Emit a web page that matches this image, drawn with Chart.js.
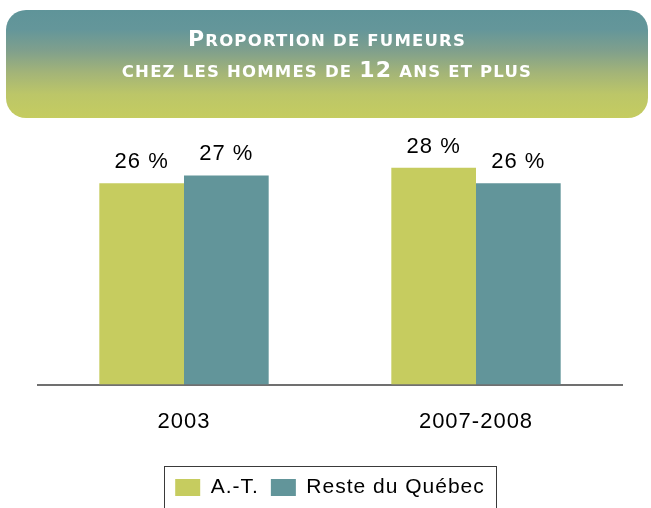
<!DOCTYPE html>
<html>
<head>
<meta charset="utf-8">
<script src="https://cdn.jsdelivr.net/npm/chart.js@4.4.1/dist/chart.umd.min.js"></script>
<style>
  html, body { margin: 0; padding: 0; background: #ffffff; }
  #wrap { position: relative; width: 651px; height: 508px; overflow: hidden; }
  #banner {
    position: absolute; left: 6px; top: 10px; width: 642px; height: 108px;
    border-radius: 20px;
    background: linear-gradient(to bottom, #5f9499 0%, #64969a 18%, #80a08c 38%, #a3b478 58%, #bcc668 78%, #c5cc60 100%);
    color: #ffffff; text-align: center;
    font-family: "DejaVu Sans", sans-serif; font-weight: bold;
  }
  #banner .ln { position: absolute; left: 0; right: 0; font-size: 22px; line-height: 26px; letter-spacing: 1.2px; white-space: nowrap; }
  #banner .l1 { top: 16px; }
  #banner .l2 { top: 47px; }
  #banner .sc { font-size: 16.5px; text-transform: uppercase; }
  #c { position: absolute; left: 0; top: 0; }
</style>
</head>
<body>
<div id="wrap">
  <canvas id="c" width="651" height="508"></canvas>
  <div id="banner">
    <div class="ln l1">P<span class="sc">roportion de fumeurs</span></div>
    <div class="ln l2"><span class="sc">chez les hommes de </span>12<span class="sc"> ans et plus</span></div>
  </div>
</div>
<script>
const categories = ["2003", "2007-2008"];
const seriesNames = ["A.-T.", "Reste du Québec"];
const valuesAT = [26, 28];
const valuesReste = [27, 26];
const colors = ["#c6cc5f", "#62959a"];

const SPACING = '1px';
const FONT_FAMILY = '"Liberation Sans", Arial, sans-serif';

const spacingPlugin = {
  id: 'spacing',
  beforeUpdate(chart) { chart.ctx.letterSpacing = SPACING; },
  beforeLayout(chart) { chart.ctx.letterSpacing = SPACING; },
  beforeDraw(chart) { chart.ctx.letterSpacing = SPACING; }
};

const labelPlugin = {
  id: 'valueLabels',
  afterDatasetsDraw(chart) {
    const ctx = chart.ctx;
    ctx.save();
    ctx.letterSpacing = SPACING;
    ctx.font = '22px ' + FONT_FAMILY;
    ctx.fillStyle = '#000000';
    ctx.textAlign = 'center';
    ctx.textBaseline = 'alphabetic';
    chart.data.datasets.forEach((ds, i) => {
      const meta = chart.getDatasetMeta(i);
      meta.data.forEach((bar, j) => {
        ctx.fillText(ds.data[j] + ' %', bar.x, bar.y - 15);
      });
    });
    ctx.restore();
  }
};

const legendBoxPlugin = {
  id: 'legendBox',
  afterDraw(chart) {
    const lg = chart.legend;
    if (!lg || !lg.legendHitBoxes || !lg.legendHitBoxes.length) return;
    const hb = lg.legendHitBoxes;
    let minX = Infinity, maxX = -Infinity, minY = Infinity;
    hb.forEach(b => {
      minX = Math.min(minX, b.left); maxX = Math.max(maxX, b.left + b.width);
      minY = Math.min(minY, b.top);
    });
    const ctx = chart.ctx;
    ctx.save();
    ctx.strokeStyle = '#3a3a3a';
    ctx.lineWidth = 1;
    ctx.strokeRect(Math.round(minX - 11) + 0.5, Math.round(minY - 11) + 0.5, Math.round(maxX - minX + 22), 60);
    ctx.restore();
  }
};

new Chart(document.getElementById('c'), {
  type: 'bar',
  data: {
    labels: categories,
    datasets: [
      { label: seriesNames[0], data: valuesAT, backgroundColor: colors[0], borderWidth: 0, categoryPercentage: 0.58, barPercentage: 1.0 },
      { label: seriesNames[1], data: valuesReste, backgroundColor: colors[1], borderWidth: 0, categoryPercentage: 0.58, barPercentage: 1.0 }
    ]
  },
  options: {
    responsive: false,
    animation: false,
    devicePixelRatio: 1,
    layout: { padding: { top: 129, left: 38, right: 29, bottom: 0 } },
    scales: {
      x: {
        grid: { display: false },
        border: { display: true, color: '#707070', width: 2 },
        ticks: { color: '#000000', font: { family: FONT_FAMILY, size: 22 }, padding: 16 },
        afterFit(scale) { scale.height += 14; }
      },
      y: {
        display: false,
        min: 0, max: 33
      }
    },
    plugins: {
      legend: {
        position: 'bottom',
        labels: {
          color: '#000000',
          font: { family: FONT_FAMILY, size: 21 },
          boxWidth: 25, boxHeight: 17, padding: 12
        }
      },
      tooltip: { enabled: false },
      title: { display: false }
    }
  },
  plugins: [spacingPlugin, labelPlugin, legendBoxPlugin]
});
</script>
</body>
</html>
